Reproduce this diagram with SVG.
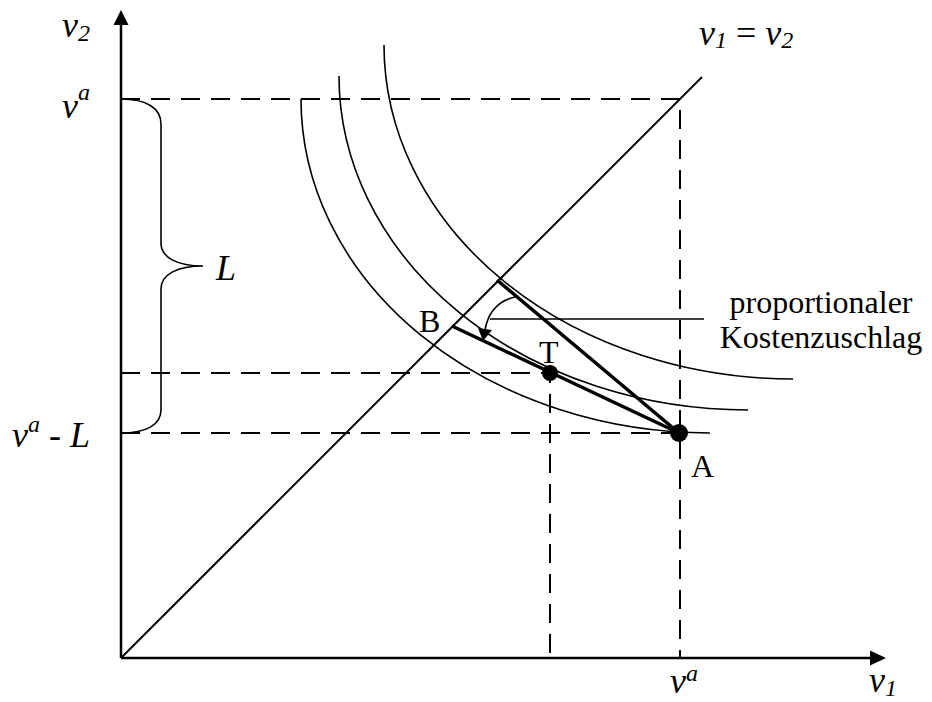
<svg xmlns="http://www.w3.org/2000/svg" width="932" height="702" viewBox="0 0 932 702">
<style>
.ax{stroke:#000;stroke-width:2.5;fill:none}
.dash{stroke:#000;stroke-width:2;fill:none;stroke-dasharray:19 11}
.thin{stroke:#000;stroke-width:1.6;fill:none}
.thick{stroke:#000;stroke-width:3.5;fill:none}
.it{font-family:"Liberation Serif","Times New Roman",serif;font-style:italic;font-size:36px;fill:#000}
.up{font-family:"Liberation Serif","Times New Roman",serif;font-size:32px;fill:#000}
.sub{font-size:24px}
</style>
<rect width="932" height="702" fill="#fff"/>
<g id="axes">
<line class="ax" x1="121" y1="658" x2="121" y2="22"/>
<polygon points="121,10 113.5,25 128.5,25" fill="#000"/>
<line class="ax" x1="121" y1="658" x2="874" y2="658"/>
<polygon points="886,658 870,650.5 870,665.5" fill="#000"/>
<line x1="121" y1="658" x2="702" y2="77" stroke="#000" stroke-width="2"/>
</g>
<g id="guides">
<path class="dash" d="M121,99 H680 V658"/>
<path class="dash" d="M121,433 H679"/>
<path class="dash" d="M121,373 H550 V658"/>
</g>
<g id="curves">
<path class="thin" d="M301,99 A409,334 0 0 0 710,433"/>
<path class="thin" d="M339,76 A409,334 0 0 0 748,410"/>
<path class="thin" d="M384,45 A409,334 0 0 0 793,379"/>
</g>
<g id="brace">
<path class="thin" d="M121,99 C146,99 161,108 161,124 L161,243 C161,258 178,266 203,266 C178,266 161,274 161,289 L161,410 C161,425 146,433 121,433"/>
</g>
<g id="connectors">
<line class="thick" x1="679" y1="433" x2="452" y2="326"/>
<line class="thick" x1="679" y1="433" x2="497" y2="280"/>
<line class="thin" x1="490" y1="319" x2="704" y2="319"/>
<path class="thin" stroke-width="2.2" d="M515,297 C498,301 488,313 485,330"/>
<polygon points="478,328 492,330 483,341" fill="#000"/>
</g>
<g id="points">
<circle cx="550" cy="373" r="8"/>
<circle cx="679" cy="433" r="9"/>
</g>
<g id="labels">
<text class="it" x="62" y="37">v<tspan class="sub" dy="4">2</tspan></text>
<text class="it" x="62" y="118">v<tspan class="sub" dy="-18">a</tspan></text>
<text class="it" x="12" y="447">v<tspan class="sub" dy="-15">a</tspan><tspan dy="15" font-style="normal"> - </tspan>L</text>
<text class="it" x="216" y="280">L</text>
<text class="it" x="699" y="45">v<tspan class="sub" dy="3">1</tspan><tspan dy="-3" font-style="normal"> = </tspan>v<tspan class="sub" dy="3">2</tspan></text>
<text class="it" x="670" y="693">v<tspan class="sub" dy="-12">a</tspan></text>
<text class="it" x="869" y="692">v<tspan class="sub" dy="4">1</tspan></text>
<text class="up" x="419" y="332">B</text>
<text class="up" x="539" y="363">T</text>
<text class="up" x="691" y="477">A</text>
<text class="up" x="821" y="313" text-anchor="middle">proportionaler</text>
<text class="up" x="821" y="348" text-anchor="middle">Kostenzuschlag</text>
</g>
</svg>
